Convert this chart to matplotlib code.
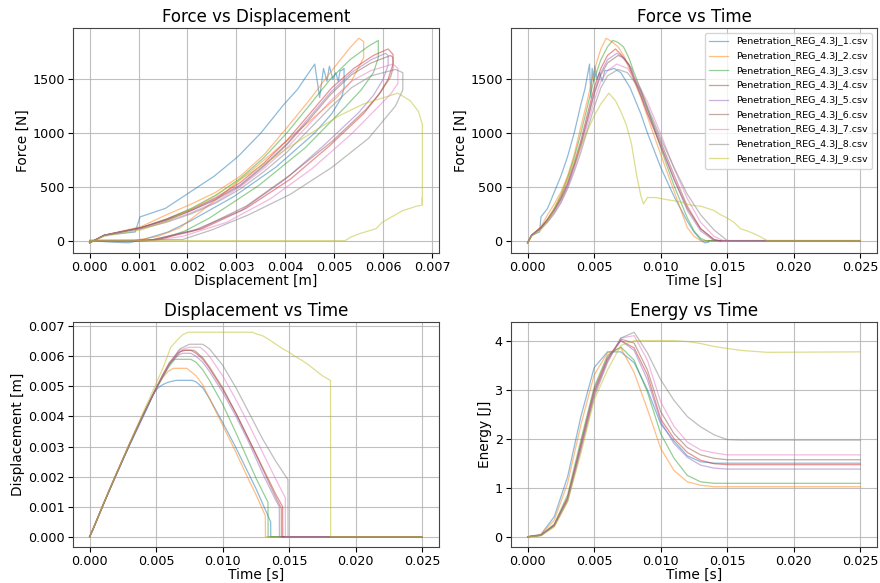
import matplotlib
matplotlib.use("Agg")
import matplotlib.pyplot as plt
import matplotlib.ticker as mticker
import numpy as np

labels = [f"Penetration_REG_4.3J_{i}.csv" for i in range(1, 10)]

# ---- series data: time [ms], displacement [mm], force [N] ----
t1 = [0, 0.3, 0.9, 1.0, 1.5, 2.0, 2.5, 3.0, 3.5, 4.0, 4.3, 4.65, 4.75, 4.85, 4.95, 5.05, 5.2, 5.4, 5.6, 5.8, 6.0, 6.5, 7.0, 7.7, 8.0, 8.5, 9.0, 10.0, 11.0, 12.0, 12.5, 13.0, 13.3, 13.6, 13.61, 25]
d1 = [0, 0.3, 0.93, 1.03, 1.55, 2.05, 2.55, 3.03, 3.5, 3.97, 4.25, 4.6, 4.7, 4.78, 4.85, 4.9, 4.97, 5.03, 5.08, 5.12, 5.15, 5.2, 5.2, 5.2, 5.15, 4.95, 4.6, 3.8, 2.95, 2.05, 1.6, 1.1, 0.8, 0.5, 0, 0]
f1 = [-20, 50, 80, 220, 300, 450, 600, 780, 1000, 1265, 1406, 1640, 1330, 1600, 1480, 1620, 1500, 1560, 1480, 1580, 1580, 1600, 1560, 1420, 1330, 1180, 1000, 680, 410, 180, 80, 10, -20, -15, 0, 0]

t2 = [0, 0.3, 1.0, 1.5, 2.0, 2.5, 3.0, 3.5, 4.0, 4.5, 5.0, 5.5, 5.9, 6.3, 6.8, 7.3, 8.0, 8.5, 9.0, 10.0, 11.0, 12.0, 12.5, 13.0, 13.2, 13.21, 25]
d2 = [0, 0.3, 1.05, 1.57, 2.08, 2.58, 3.08, 3.57, 4.05, 4.5, 4.95, 5.3, 5.5, 5.6, 5.6, 5.6, 5.35, 5.05, 4.6, 3.7, 2.8, 1.85, 1.4, 0.9, 0.7, 0, 0]
f2 = [-20, 50, 130, 240, 340, 450, 600, 800, 1060, 1310, 1580, 1780, 1880, 1850, 1800, 1700, 1480, 1330, 1150, 800, 460, 120, 40, 0, -10, 0, 0]

t3 = [0, 0.3, 1.0, 1.5, 2.0, 2.5, 3.0, 3.5, 4.0, 4.5, 5.0, 5.5, 6.0, 6.4, 6.8, 7.2, 7.6, 8.0, 8.5, 9.0, 10.0, 11.0, 12.0, 12.5, 13.0, 13.4, 13.41, 25]
d3 = [0, 0.3, 1.05, 1.57, 2.08, 2.58, 3.08, 3.56, 4.03, 4.48, 4.92, 5.32, 5.68, 5.9, 5.9, 5.9, 5.9, 5.8, 5.55, 5.2, 4.4, 3.45, 2.45, 1.95, 1.5, 1.15, 0, 0]
f3 = [-20, 50, 120, 200, 300, 420, 580, 770, 1000, 1250, 1500, 1680, 1800, 1860, 1840, 1800, 1700, 1560, 1400, 1230, 860, 510, 210, 90, 20, 0, 0, 0]

t4 = [0, 0.3, 1.0, 1.5, 2.0, 2.5, 3.0, 3.5, 4.0, 4.5, 5.0, 5.5, 6.0, 6.6, 7.0, 7.6, 8.0, 8.5, 9.0, 10.0, 11.0, 12.0, 13.0, 14.0, 14.5, 14.51, 25]
d4 = [0, 0.3, 1.05, 1.57, 2.08, 2.58, 3.08, 3.56, 4.03, 4.5, 4.95, 5.4, 5.8, 6.1, 6.2, 6.2, 6.1, 5.9, 5.6, 4.9, 4.1, 3.2, 2.3, 1.4, 1.0, 0, 0]
f4 = [-20, 50, 120, 200, 290, 400, 540, 720, 930, 1180, 1420, 1600, 1720, 1780, 1730, 1640, 1500, 1350, 1180, 880, 570, 300, 110, 10, -5, 0, 0]

t5 = [0, 0.3, 1.0, 1.5, 2.0, 2.5, 3.0, 3.5, 4.0, 4.5, 5.0, 5.5, 6.0, 6.7, 7.0, 7.6, 8.0, 8.5, 9.0, 10.0, 11.0, 12.0, 13.0, 14.0, 14.25, 14.26, 25]
d5 = [0, 0.3, 1.05, 1.57, 2.08, 2.58, 3.08, 3.56, 4.03, 4.48, 4.93, 5.35, 5.75, 6.05, 6.1, 6.1, 6.0, 5.8, 5.5, 4.8, 4.0, 3.1, 2.1, 1.2, 1.0, 0, 0]
f5 = [-20, 50, 120, 190, 280, 390, 520, 700, 900, 1140, 1380, 1560, 1680, 1740, 1720, 1630, 1500, 1350, 1190, 890, 570, 280, 90, 0, 0, 0, 0]

t6 = [0, 0.3, 1.0, 1.5, 2.0, 2.5, 3.0, 3.5, 4.0, 4.5, 5.0, 5.5, 6.0, 6.8, 7.2, 7.8, 8.0, 8.5, 9.0, 10.0, 11.0, 12.0, 13.0, 14.0, 14.4, 14.41, 25]
d6 = [0, 0.3, 1.05, 1.57, 2.08, 2.58, 3.08, 3.56, 4.03, 4.48, 4.93, 5.35, 5.75, 6.15, 6.2, 6.2, 6.15, 5.95, 5.65, 4.95, 4.1, 3.2, 2.25, 1.3, 0.95, 0, 0]
f6 = [-20, 50, 120, 190, 280, 380, 510, 690, 890, 1120, 1360, 1540, 1650, 1720, 1700, 1600, 1520, 1380, 1220, 920, 610, 320, 110, 10, 0, 0, 0]

t7 = [0, 0.3, 1.0, 1.5, 2.0, 2.5, 3.0, 3.5, 4.0, 4.5, 5.0, 5.5, 6.0, 6.7, 7.5, 8.3, 8.7, 9.0, 10.0, 11.0, 12.0, 13.0, 14.0, 14.7, 14.71, 25]
d7 = [0, 0.3, 1.05, 1.57, 2.08, 2.58, 3.08, 3.56, 4.03, 4.48, 4.93, 5.35, 5.75, 6.2, 6.3, 6.3, 6.15, 6.0, 5.35, 4.55, 3.7, 2.8, 1.9, 1.3, 0, 0]
f7 = [-20, 50, 110, 180, 260, 360, 500, 670, 860, 1080, 1300, 1480, 1580, 1640, 1600, 1460, 1360, 1290, 990, 670, 390, 170, 40, 0, 0, 0]

t8 = [0, 0.3, 1.0, 1.5, 2.0, 2.5, 3.0, 3.5, 4.0, 4.5, 5.0, 5.5, 6.0, 6.8, 7.5, 8.5, 9.0, 10.0, 11.0, 12.0, 13.0, 14.0, 14.9, 14.91, 15.0, 25]
d8 = [0, 0.3, 1.05, 1.57, 2.08, 2.58, 3.08, 3.56, 4.03, 4.48, 4.93, 5.35, 5.75, 6.25, 6.4, 6.4, 6.25, 5.7, 4.95, 4.1, 3.25, 2.5, 1.9, 0, 0, 0]
f8 = [-20, 50, 110, 170, 250, 350, 480, 640, 820, 1030, 1240, 1420, 1530, 1590, 1560, 1400, 1250, 950, 680, 430, 240, 100, 10, 5, 0, 0]

t9 = [0, 0.3, 1.0, 1.5, 2.0, 2.5, 3.0, 3.5, 4.0, 4.5, 5.0, 5.5, 6.1, 6.6, 7.0, 7.4, 7.8, 8.2, 8.5, 8.7, 9.0, 9.6, 10.5, 11.5, 12.2, 12.5, 13.0, 13.5, 14.0, 14.5, 15.0, 15.5, 16.0, 16.5, 17.0, 17.5, 18.0, 18.1, 18.11, 25]
d9 = [0, 0.3, 1.06, 1.58, 2.1, 2.6, 3.12, 3.62, 4.12, 4.6, 5.1, 5.6, 6.3, 6.55, 6.72, 6.8, 6.8, 6.8, 6.8, 6.8, 6.8, 6.8, 6.8, 6.8, 6.8, 6.75, 6.68, 6.55, 6.4, 6.25, 6.13, 5.98, 5.85, 5.7, 5.52, 5.35, 5.22, 5.2, 0, 0]
f9 = [-20, 40, 100, 180, 300, 430, 580, 730, 880, 1020, 1160, 1270, 1370, 1300, 1200, 1080, 900, 600, 420, 340, 400, 400, 380, 360, 330, 325, 320, 300, 280, 240, 210, 170, 110, 90, 65, 35, 0, 0, 0, 0]

# ---- energy [J] on a common time grid [ms] ----
t_energy = [0, 1, 2, 3, 4, 5, 6, 7, 8, 9, 10, 11, 12, 13, 14, 15, 16, 17, 18, 25]
e1 = [0, 0.05, 0.41, 1.22, 2.45, 3.45, 3.77, 3.77, 3.55, 3.0, 2.3, 1.95, 1.65, 1.53, 1.50, 1.50, 1.50, 1.50, 1.50, 1.50]
e2 = [0, 0.04, 0.34, 1.09, 2.28, 3.30, 3.75, 3.85, 3.35, 2.60, 1.80, 1.35, 1.12, 1.05, 1.02, 1.02, 1.02, 1.02, 1.02, 1.02]
e3 = [0, 0.03, 0.26, 0.85, 1.97, 3.05, 3.70, 3.87, 3.60, 2.95, 2.10, 1.60, 1.25, 1.12, 1.09, 1.09, 1.09, 1.09, 1.09, 1.09]
e4 = [0, 0.03, 0.24, 0.80, 1.90, 3.00, 3.65, 4.00, 3.85, 3.30, 2.40, 2.00, 1.72, 1.56, 1.49, 1.47, 1.47, 1.47, 1.47, 1.47]
e5 = [0, 0.03, 0.24, 0.78, 1.86, 2.95, 3.62, 4.00, 3.80, 3.20, 2.35, 1.90, 1.62, 1.46, 1.40, 1.38, 1.38, 1.38, 1.38, 1.38]
e6 = [0, 0.03, 0.23, 0.77, 1.84, 2.93, 3.60, 4.03, 3.95, 3.40, 2.55, 2.10, 1.82, 1.67, 1.60, 1.57, 1.57, 1.57, 1.57, 1.57]
e7 = [0, 0.03, 0.22, 0.75, 1.80, 2.90, 3.58, 4.05, 4.10, 3.60, 2.75, 2.25, 1.93, 1.77, 1.71, 1.67, 1.67, 1.67, 1.67, 1.67]
e8 = [0, 0.03, 0.22, 0.73, 1.77, 2.85, 3.55, 4.05, 4.17, 3.75, 3.20, 2.78, 2.45, 2.24, 2.08, 1.98, 1.97, 1.97, 1.97, 1.97]
e9 = [0, 0.02, 0.20, 0.71, 1.70, 2.79, 3.40, 3.90, 4.00, 4.00, 4.00, 4.00, 3.98, 3.94, 3.88, 3.84, 3.80, 3.78, 3.76, 3.77]

times = [t1, t2, t3, t4, t5, t6, t7, t8, t9]
disps = [d1, d2, d3, d4, d5, d6, d7, d8, d9]
forces = [f1, f2, f3, f4, f5, f6, f7, f8, f9]
energies = [e1, e2, e3, e4, e5, e6, e7, e8, e9]

fig = plt.figure(figsize=(8.8, 5.83), dpi=100)
W, H = 880, 583
def pos(l, t, r, b):
    return [l / W, 1 - b / H, (r - l) / W, (b - t) / H]

ax_fd = fig.add_axes(pos(73, 28, 439, 253))
ax_ft = fig.add_axes(pos(511, 28, 877, 253))
ax_dt = fig.add_axes(pos(73, 322, 439, 547))
ax_et = fig.add_axes(pos(511, 322, 877, 547))

colors = plt.rcParams['axes.prop_cycle'].by_key()['color']
kw = dict(lw=0.9, alpha=0.5)
te = np.array(t_energy) / 1000.0
for i in range(9):
    t = np.array(times[i]) / 1000.0
    d = np.array(disps[i]) / 1000.0
    f = np.array(forces[i])
    c = colors[i]
    ax_fd.plot(d, f, color=c, **kw)
    ax_ft.plot(t, f, color=c, label=labels[i], **kw)
    ax_dt.plot(t, d, color=c, **kw)
    ax_et.plot(te, energies[i], color=c, **kw)

TS, LS, TT = 9.2, 9.9, 12
specs = [
    (ax_fd, "Force vs Displacement", "Displacement [m]", "Force [N]"),
    (ax_ft, "Force vs Time", "Time [s]", "Force [N]"),
    (ax_dt, "Displacement vs Time", "Time [s]", "Displacement [m]"),
    (ax_et, "Energy vs Time", "Time [s]", "Energy [J]"),
]
for ax, title, xl, yl in specs:
    ax.set_title(title, fontsize=TT, pad=4)
    ax.set_xlabel(xl, fontsize=LS, labelpad=0)
    ax.set_ylabel(yl, fontsize=LS, labelpad=2)
    ax.tick_params(labelsize=TS, pad=2.5)
    ax.grid(True, color='#b0b0b0', lw=0.8, alpha=0.8)
    for s in ax.spines.values():
        s.set_color('#444444')

ax_fd.set_xticks([0, 0.001, 0.002, 0.003, 0.004, 0.005, 0.006, 0.007])
ax_fd.xaxis.set_major_formatter(mticker.FormatStrFormatter('%.3f'))
for ax in (ax_fd, ax_ft):
    ax.set_yticks([0, 500, 1000, 1500])
for ax in (ax_ft, ax_dt, ax_et):
    ax.set_xticks([0, 0.005, 0.01, 0.015, 0.02, 0.025])
    ax.xaxis.set_major_formatter(mticker.FormatStrFormatter('%.3f'))
ax_dt.set_yticks([0, 0.001, 0.002, 0.003, 0.004, 0.005, 0.006, 0.007])
ax_dt.yaxis.set_major_formatter(mticker.FormatStrFormatter('%.3f'))
ax_et.set_yticks([0, 1, 2, 3, 4])

ax_ft.legend(loc='upper right', fontsize=6.8, framealpha=0.8, borderpad=0.5,
             labelspacing=0.6, handlelength=2.0)

fig.savefig("out.png", dpi=100)
